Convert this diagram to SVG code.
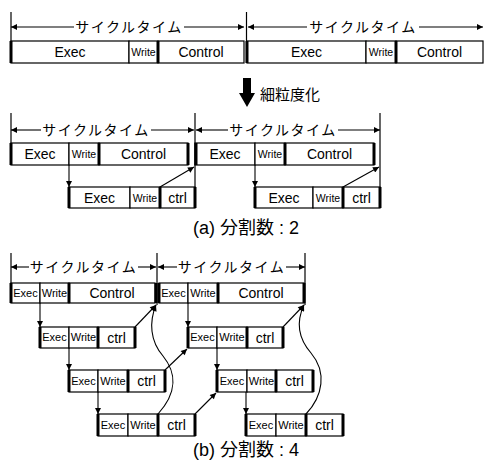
<svg xmlns="http://www.w3.org/2000/svg" width="485" height="460" viewBox="0 0 485 460">
<defs>
<marker id="ah" viewBox="0 0 10 10" refX="10" refY="5" markerWidth="7" markerHeight="6" orient="auto-start-reverse" markerUnits="userSpaceOnUse">
<path d="M0,0 L10,5 L0,10 z" fill="#000"/>
</marker>
<style>
.b{fill:#fff;stroke:#000;stroke-width:1.2}
.k{stroke:#000;stroke-width:3}
.t{stroke:#000;stroke-width:1.2;fill:none}
.ln{stroke:#000;stroke-width:1.1;fill:none}
.a{stroke:#000;stroke-width:1.1;fill:none;marker-end:url(#ah)}
.kt{font-family:"Noto Sans CJK JP",sans-serif;font-size:14px;letter-spacing:1.5px;text-anchor:middle}
.L{font-family:"Liberation Sans",Arial,sans-serif;font-size:14px;text-anchor:middle}
.s{font-family:"Liberation Sans",Arial,sans-serif;font-size:11px;text-anchor:middle}
.w{font-family:"Liberation Sans",Arial,sans-serif;font-size:10.5px;text-anchor:middle}
.cap{font-family:"Liberation Sans","Noto Sans CJK JP",sans-serif;font-size:18px;text-anchor:middle}
</style>
</defs>

<!-- Top -->
<g id="top-cycle1">
<line class="t" x1="11" y1="12" x2="11" y2="63"/>
<line class="ln" x1="74" y1="27" x2="11" y2="27" style="marker-end:url(#ah)"/>
<line class="ln" x1="184" y1="27" x2="244" y2="27" style="marker-end:url(#ah)"/>
<text class="kt" x="129" y="32">サイクルタイム</text>
<rect class="b" x="11" y="41" width="118" height="22"/>
<rect class="b" x="129" y="41" width="29" height="22"/>
<rect class="b" x="158" y="41" width="86" height="22"/>
<line class="k" x1="11" y1="41" x2="11" y2="63"/>
<line class="k" x1="158" y1="41" x2="158" y2="63"/>
<text class="L" x="70" y="57">Exec</text>
<text class="w" x="143.5" y="56">Write</text>
<text class="L" x="201" y="57">Control</text>
</g>
<g id="top-cycle2">
<line class="t" x1="246.5" y1="12" x2="246.5" y2="63"/>
<line class="ln" x1="307" y1="27" x2="248" y2="27" style="marker-end:url(#ah)"/>
<line class="ln" x1="419" y1="27" x2="483" y2="27" style="marker-end:url(#ah)"/>
<text class="kt" x="363" y="32">サイクルタイム</text>
<rect class="b" x="247" y="41" width="119" height="22"/>
<rect class="b" x="366" y="41" width="30" height="22"/>
<rect class="b" x="396" y="41" width="87" height="22"/>
<line class="k" x1="247" y1="41" x2="247" y2="63"/>
<line class="k" x1="396" y1="41" x2="396" y2="63"/>
<text class="L" x="306.5" y="57">Exec</text>
<text class="w" x="381" y="56">Write</text>
<text class="L" x="439.5" y="57">Control</text>
</g>

<g id="refine">
<path d="M243,78 L251,78 L251,93 L255,93 L247,107 L239,93 L243,93 z" fill="#000"/>
<text x="260" y="100" style="font-family:'Noto Sans CJK JP',sans-serif;font-size:15px">細粒度化</text>
</g>

<!-- (a) -->
<g id="a-cycle1">
<line class="t" x1="11" y1="113" x2="11" y2="165"/>
<line class="t" x1="195" y1="113" x2="195" y2="208"/>
<line class="ln" x1="41" y1="130" x2="11" y2="130" style="marker-end:url(#ah)"/>
<line class="ln" x1="151" y1="130" x2="194" y2="130" style="marker-end:url(#ah)"/>
<text class="kt" x="96" y="135">サイクルタイム</text>
<rect class="b" x="11" y="143" width="58" height="22"/>
<rect class="b" x="69" y="143" width="30" height="22"/>
<rect class="b" x="99" y="143" width="89" height="22"/>
<line class="k" x1="11" y1="143" x2="11" y2="165"/>
<line class="k" x1="99" y1="143" x2="99" y2="165"/>
<line class="k" x1="188" y1="143" x2="188" y2="165"/>
<text class="L" x="40" y="159">Exec</text>
<text class="w" x="84" y="158">Write</text>
<text class="L" x="143.5" y="159">Control</text>
<rect class="b" x="69" y="187" width="61" height="21"/>
<rect class="b" x="130" y="187" width="30" height="21"/>
<rect class="b" x="160" y="187" width="35" height="21"/>
<line class="k" x1="69" y1="187" x2="69" y2="208"/>
<line class="k" x1="160" y1="187" x2="160" y2="208"/>
<line class="k" x1="195" y1="187" x2="195" y2="208"/>
<text class="L" x="99.5" y="203">Exec</text>
<text class="w" x="145" y="202">Write</text>
<text class="L" x="177.5" y="203">ctrl</text>
</g>
<g id="a-cycle2">
<line class="t" x1="380" y1="113" x2="380" y2="208"/>
<line class="ln" x1="228" y1="130" x2="196" y2="130" style="marker-end:url(#ah)"/>
<line class="ln" x1="338" y1="130" x2="380" y2="130" style="marker-end:url(#ah)"/>
<text class="kt" x="283" y="135">サイクルタイム</text>
<rect class="b" x="195" y="143" width="60" height="22"/>
<rect class="b" x="255" y="143" width="30" height="22"/>
<rect class="b" x="285" y="143" width="89" height="22"/>
<line class="k" x1="196" y1="143" x2="196" y2="165"/>
<line class="k" x1="285" y1="143" x2="285" y2="165"/>
<line class="k" x1="374" y1="143" x2="374" y2="165"/>
<text class="L" x="225" y="159">Exec</text>
<text class="w" x="270" y="158">Write</text>
<text class="L" x="329.5" y="159">Control</text>
<rect class="b" x="255" y="187" width="58" height="21"/>
<rect class="b" x="313" y="187" width="30" height="21"/>
<rect class="b" x="343" y="187" width="37" height="21"/>
<line class="k" x1="255" y1="187" x2="255" y2="208"/>
<line class="k" x1="343" y1="187" x2="343" y2="208"/>
<line class="k" x1="380" y1="187" x2="380" y2="208"/>
<text class="L" x="284" y="203">Exec</text>
<text class="w" x="328" y="202">Write</text>
<text class="L" x="361.5" y="203">ctrl</text>
</g>
<text class="cap" x="246" y="234">(a) 分割数 : 2</text>

<!-- (b) -->
<g id="b-cycle1">
<line class="t" x1="11" y1="253" x2="11" y2="303"/>
<line class="t" x1="157" y1="253" x2="157" y2="305"/>
<line class="ln" x1="29" y1="267" x2="11" y2="267" style="marker-end:url(#ah)"/>
<line class="ln" x1="138" y1="267" x2="156" y2="267" style="marker-end:url(#ah)"/>
<text class="kt" x="83.5" y="272">サイクルタイム</text>
<rect class="b" x="11" y="283" width="29" height="20"/>
<rect class="b" x="40" y="283" width="29" height="20"/>
<rect class="b" x="69" y="283" width="86" height="20"/>
<line class="k" x1="11" y1="283" x2="11" y2="303"/>
<line class="k" x1="69" y1="283" x2="69" y2="303"/>
<line class="k" x1="156" y1="283" x2="156" y2="303"/>
<text class="s" x="25.5" y="297">Exec</text>
<text class="s" x="54.5" y="297">Write</text>
<text class="L" x="112" y="298">Control</text>
</g>
<g id="b-row2-1">
<rect class="b" x="40" y="327" width="29" height="21"/>
<rect class="b" x="69" y="327" width="29" height="21"/>
<rect class="b" x="98" y="327" width="37" height="21"/>
<line class="k" x1="40" y1="327" x2="40" y2="348"/>
<line class="k" x1="98" y1="327" x2="98" y2="348"/>
<line class="k" x1="135" y1="327" x2="135" y2="348"/>
<text class="s" x="54.5" y="341">Exec</text>
<text class="s" x="83.5" y="341">Write</text>
<text class="L" x="116.5" y="343">ctrl</text>
</g>
<g id="b-row3-1">
<rect class="b" x="69" y="370" width="29" height="22"/>
<rect class="b" x="98" y="370" width="30" height="22"/>
<rect class="b" x="128" y="370" width="37" height="22"/>
<line class="k" x1="69" y1="370" x2="69" y2="392"/>
<line class="k" x1="128" y1="370" x2="128" y2="392"/>
<line class="k" x1="165" y1="370" x2="165" y2="392"/>
<text class="s" x="83.5" y="385">Exec</text>
<text class="s" x="113" y="385">Write</text>
<text class="L" x="146.5" y="386">ctrl</text>
</g>
<g id="b-row4-1">
<rect class="b" x="98" y="414" width="30" height="22"/>
<rect class="b" x="128" y="414" width="30" height="22"/>
<rect class="b" x="158" y="414" width="37" height="22"/>
<line class="k" x1="98" y1="414" x2="98" y2="436"/>
<line class="k" x1="158" y1="414" x2="158" y2="436"/>
<line class="k" x1="195" y1="414" x2="195" y2="436"/>
<text class="s" x="113" y="429">Exec</text>
<text class="s" x="143" y="429">Write</text>
<text class="L" x="176.5" y="430">ctrl</text>
</g>
<g id="b-cycle2">
<line class="t" x1="305" y1="253" x2="305" y2="305"/>
<line class="ln" x1="177" y1="267" x2="158" y2="267" style="marker-end:url(#ah)"/>
<line class="ln" x1="286" y1="267" x2="305" y2="267" style="marker-end:url(#ah)"/>
<text class="kt" x="231.5" y="272">サイクルタイム</text>
<rect class="b" x="159" y="283" width="29" height="20"/>
<rect class="b" x="188" y="283" width="30" height="20"/>
<rect class="b" x="218" y="283" width="86" height="20"/>
<line class="k" x1="159" y1="283" x2="159" y2="303"/>
<line class="k" x1="218" y1="283" x2="218" y2="303"/>
<line class="k" x1="304" y1="283" x2="304" y2="303"/>
<text class="s" x="173.5" y="297">Exec</text>
<text class="s" x="203" y="297">Write</text>
<text class="L" x="261" y="298">Control</text>
</g>
<g id="b-row2-2">
<rect class="b" x="188" y="327" width="29" height="21"/>
<rect class="b" x="217" y="327" width="30" height="21"/>
<rect class="b" x="247" y="327" width="36" height="21"/>
<line class="k" x1="188" y1="327" x2="188" y2="348"/>
<line class="k" x1="247" y1="327" x2="247" y2="348"/>
<line class="k" x1="283" y1="327" x2="283" y2="348"/>
<text class="s" x="202.5" y="341">Exec</text>
<text class="s" x="232" y="341">Write</text>
<text class="L" x="265" y="343">ctrl</text>
</g>
<g id="b-row3-2">
<rect class="b" x="217" y="370" width="30" height="22"/>
<rect class="b" x="247" y="370" width="29" height="22"/>
<rect class="b" x="276" y="370" width="37" height="22"/>
<line class="k" x1="217" y1="370" x2="217" y2="392"/>
<line class="k" x1="276" y1="370" x2="276" y2="392"/>
<line class="k" x1="313" y1="370" x2="313" y2="392"/>
<text class="s" x="232" y="385">Exec</text>
<text class="s" x="261.5" y="385">Write</text>
<text class="L" x="294.5" y="386">ctrl</text>
</g>
<g id="b-row4-2">
<rect class="b" x="246" y="414" width="30" height="22"/>
<rect class="b" x="276" y="414" width="30" height="22"/>
<rect class="b" x="306" y="414" width="37" height="22"/>
<line class="k" x1="246" y1="414" x2="246" y2="436"/>
<line class="k" x1="306" y1="414" x2="306" y2="436"/>
<line class="k" x1="343" y1="414" x2="343" y2="436"/>
<text class="s" x="261" y="429">Exec</text>
<text class="s" x="291" y="429">Write</text>
<text class="L" x="324.5" y="430">ctrl</text>
</g>
<text class="cap" x="246" y="456">(b) 分割数 : 4</text>

<g id="connectors">
<line class="a" x1="69" y1="165" x2="69" y2="187"/>
<line class="a" x1="255" y1="165" x2="255" y2="187"/>
<line class="a" x1="160" y1="187" x2="194" y2="167"/>
<line class="a" x1="343" y1="187" x2="379" y2="167"/>
<line class="a" x1="40" y1="303" x2="40" y2="327"/>
<line class="a" x1="69" y1="348" x2="69" y2="370"/>
<line class="a" x1="98" y1="392" x2="98" y2="414"/>
<line class="a" x1="188" y1="303" x2="188" y2="327"/>
<line class="a" x1="217" y1="348" x2="217" y2="370"/>
<line class="a" x1="246" y1="392" x2="246" y2="414"/>
<line class="a" x1="135" y1="327" x2="156" y2="305"/>
<line class="a" x1="165" y1="370" x2="187" y2="349"/>
<line class="a" x1="195" y1="414" x2="216" y2="393"/>
<line class="a" x1="283" y1="327" x2="304" y2="305"/>
<path class="a" d="M158,414 C178,392 176,372 163,356 C150,341 149,322 156,305"/>
<path class="a" d="M306,414 C323,396 327,372 311,353 C298,338 296,322 304,305"/>
</g>
</svg>
